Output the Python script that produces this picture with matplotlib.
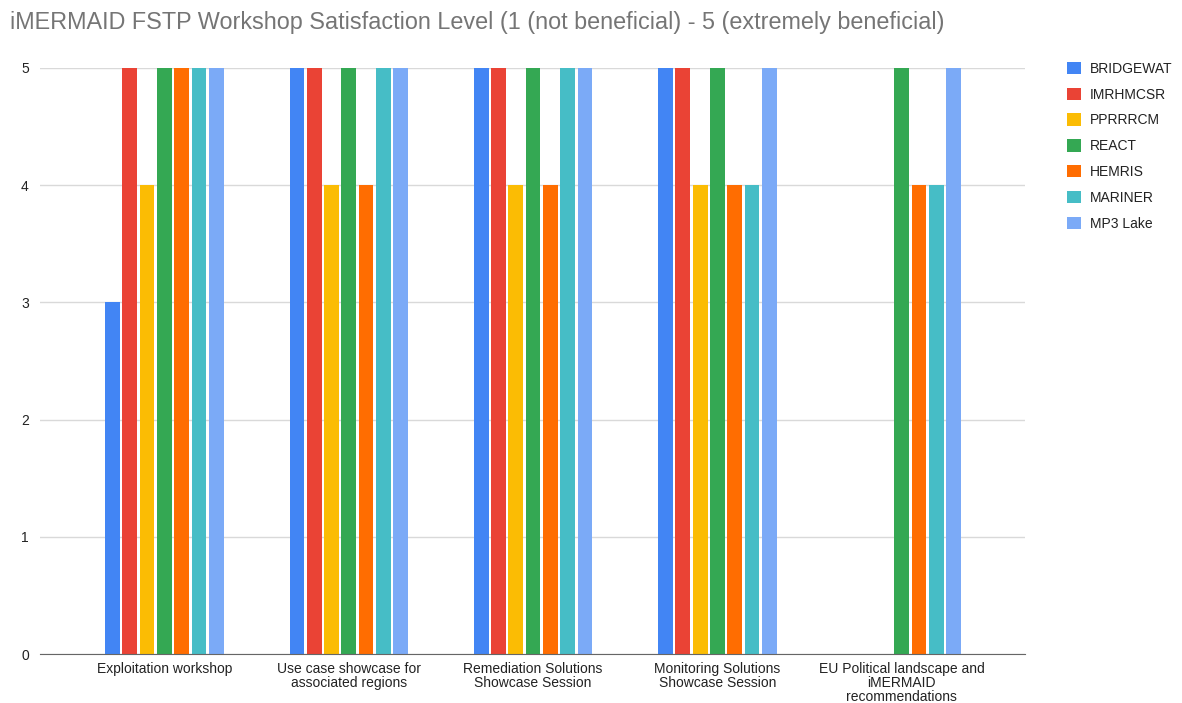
import numpy as np
import matplotlib
matplotlib.use('Agg')
import matplotlib.pyplot as plt

plt.rcParams['font.family'] = ['Liberation Sans', 'DejaVu Sans']

# Workshop sessions (x categories)
sessions = [
    'Exploitation workshop',
    'Use case showcase for\nassociated regions',
    'Remediation Solutions\nShowcase Session',
    'Monitoring Solutions\nShowcase Session',
    'EU Political landscape and\niMERMAID\nrecommendations',
]

# Satisfaction scores per project (nan = no answer)
bridgewat = [3, 5, 5, 5, np.nan]
imrhmcsr = [5, 5, 5, 5, np.nan]
pprrrcm = [4, 4, 4, 4, np.nan]
react = [5, 5, 5, 5, 5]
hemris = [5, 4, 4, 4, 4]
mariner = [5, 5, 5, 4, 4]
mp3_lake = [5, 5, 5, 5, 5]

series = [
    ('BRIDGEWAT', bridgewat, '#4285F4'),
    ('IMRHMCSR', imrhmcsr, '#EA4335'),
    ('PPRRRCM', pprrrcm, '#FBBC04'),
    ('REACT', react, '#34A853'),
    ('HEMRIS', hemris, '#FF6D01'),
    ('MARINER', mariner, '#46BDC6'),
    ('MP3 Lake', mp3_lake, '#7BAAF7'),
]

fig = plt.figure(figsize=(11.82, 7.03), dpi=100)
ax = fig.add_axes([0.0338, 0.0697, 0.8336, 0.8336])

x = np.arange(len(sessions))
slot = 0.0937
bar_w = 0.080
n = len(series)
for i, (name, vals, color) in enumerate(series):
    offs = (i - (n - 1) / 2) * slot
    ax.bar(x + offs, vals, width=bar_w, color=color, label=name, zorder=3)

ax.set_xlim(-0.675, 4.67)
ax.set_ylim(0, 5)
ax.set_yticks([0, 1, 2, 3, 4, 5])
ax.set_xticks(x)
ax.set_xticklabels(sessions, fontsize=10, color='#222222', linespacing=1.0)
ax.tick_params(axis='both', length=0, labelsize=10, colors='#222222')
ax.tick_params(axis='y', pad=8)
ax.tick_params(axis='x', pad=6)

ax.grid(axis='y', color='#d9d9d9', linewidth=1, zorder=0)
for side in ['top', 'right', 'left']:
    ax.spines[side].set_visible(False)
ax.spines['bottom'].set_color('#666666')
ax.spines['bottom'].set_zorder(4)

fig.text(0.0085, 0.968, 'iMERMAID FSTP Workshop Satisfaction Level (1 (not beneficial) - 5 (extremely beneficial)',
         fontsize=16.8, color='#757575', ha='left', va='center')

ax.legend(loc='upper left', bbox_to_anchor=(1.030, 1.032), frameon=False, fontsize=10,
          handlelength=1.0, handleheight=1.0, handletextpad=0.6, labelspacing=0.85,
          labelcolor='#222222')

fig.savefig('out.png', dpi=100)
